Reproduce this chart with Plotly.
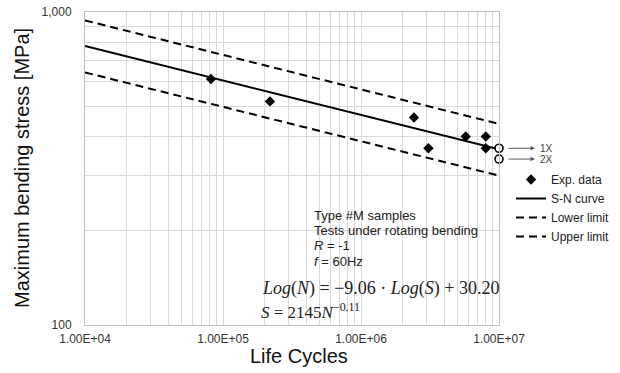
import plotly.graph_objects as go
import math

# ---------------- data ----------------
exp_cycles = [8.18e4, 2.19e5, 2.42e6, 3.08e6, 5.74e6, 8.02e6, 8.02e6]
exp_stress = [611, 518, 460, 367, 400, 400, 367]

runout_cycles = [1.0e7, 1.0e7]
runout_stress = [367, 339]
runout_labels = ["1X", "2X"]

curve_cycles = [1.0e4, 1.0e7]
sn_stress = [779, 364]
lower_stress = [641, 300]
upper_stress = [940, 439]

x_tickvals = [1e4, 1e5, 1e6, 1e7]
x_ticktext = ["1.00E+04", "1.00E+05", "1.00E+06", "1.00E+07"]
y_tickvals = [100, 1000]
y_ticktext = ["100", "1,000"]

info_lines = ["Type #M samples", "Tests under rotating bending",
              "<i>R</i> = -1", "<i>f</i> = 60Hz"]
formula_1 = "<i>Log</i>(<i>N</i>) = \u22129.06 \u00b7 <i>Log</i>(<i>S</i>) + 30.20"
formula_2 = "<i>S</i> = 2145<i>N</i><sup>\u22120.11</sup>"

# ---------------- layout helpers ----------------
W, H = 620, 373
L, R, T, B = 85, 499, 12, 325
PW, PH = R - L, B - T


def px(xp):
    return (xp - L) / PW


def py(yp):
    return (B - yp) / PH


SANS = "Liberation Sans, Arial, sans-serif"
SERIF = "Liberation Serif, Times New Roman, serif"
GRID = "#d9d9d9"

fig = go.Figure()

fig.add_trace(go.Scatter(x=exp_cycles, y=exp_stress, mode="markers", name="Exp. data",
                         marker=dict(symbol="diamond", size=8, color="black")))
fig.add_trace(go.Scatter(x=curve_cycles, y=sn_stress, mode="lines", name="S-N curve",
                         line=dict(color="black", width=2)))
fig.add_trace(go.Scatter(x=curve_cycles, y=lower_stress, mode="lines", name="Lower limit",
                         line=dict(color="black", width=2, dash="8px,5px")))
fig.add_trace(go.Scatter(x=curve_cycles, y=upper_stress, mode="lines", name="Upper limit",
                         line=dict(color="black", width=2, dash="8px,5px")))
fig.add_trace(go.Scatter(x=runout_cycles, y=runout_stress, mode="markers", showlegend=False,
                         cliponaxis=False,
                         marker=dict(symbol="circle", size=8, color="white",
                                     line=dict(color="black", width=1.6))))

minor_x = [k * 10 ** e for e in range(4, 7) for k in range(2, 10)]
minor_y = [k * 100 for k in range(2, 10)]

fig.update_xaxes(type="log", range=[4, 7], tickvals=x_tickvals, ticktext=x_ticktext,
                 showgrid=True, gridcolor=GRID, gridwidth=1,
                 minor=dict(tickvals=minor_x, showgrid=True, gridcolor=GRID, gridwidth=1),
                 showline=True, linecolor="#bfbfbf", mirror=True, zeroline=False,
                 ticks="", ticklabelstandoff=3,
                 tickfont=dict(family=SANS, size=12, color="#333333"))
fig.update_yaxes(type="log", range=[2, 3], tickvals=y_tickvals, ticktext=y_ticktext,
                 showgrid=True, gridcolor=GRID, gridwidth=1,
                 minor=dict(tickvals=minor_y, showgrid=True, gridcolor=GRID, gridwidth=1),
                 showline=True, linecolor="#bfbfbf", mirror=True, zeroline=False,
                 ticks="", ticklabelstandoff=10,
                 tickfont=dict(family=SANS, size=12, color="#333333"))

shapes = []
for (x0, x1, y0, y1) in [(305, 493, 205, 270), (258, 497, 270, 298), (240, 400, 298, 321)]:
    shapes.append(dict(type="rect", xref="paper", yref="paper", layer="between",
                       x0=px(x0), x1=px(x1), y0=py(y1), y1=py(y0),
                       fillcolor="white", line=dict(width=0)))

ann = []
for i, t in enumerate(info_lines):
    ann.append(dict(xref="paper", yref="paper", x=px(312), y=py(215 + i * 15.5), text=t,
                    showarrow=False, xanchor="left", yanchor="middle",
                    font=dict(family=SANS, size=13, color="#222222")))
ann.append(dict(xref="paper", yref="paper", x=px(381), y=py(288), text=formula_1,
                showarrow=False, xanchor="center", yanchor="middle",
                font=dict(family=SERIF, size=18, color="#222222")))
ann.append(dict(xref="paper", yref="paper", x=px(310), y=py(311), text=formula_2,
                showarrow=False, xanchor="center", yanchor="middle",
                font=dict(family=SERIF, size=17, color="#222222")))

for c, s, lab in zip(runout_cycles, runout_stress, runout_labels):
    ann.append(dict(xref="paper", yref="y", x=px(535), y=math.log10(s), text="",
                    showarrow=True, axref="pixel", ax=-28, ay=0,
                    arrowhead=2, arrowsize=0.9, arrowwidth=1, arrowcolor="#595959"))
    ann.append(dict(xref="paper", yref="y", x=px(538), y=math.log10(s), text=lab,
                    showarrow=False, xanchor="left", yanchor="middle",
                    font=dict(family=SANS, size=10, color="#404040")))

ann.append(dict(xref="paper", yref="paper", x=px(22), y=py(168), text="Maximum bending stress [MPa]",
                textangle=-90, showarrow=False, xanchor="center", yanchor="middle",
                font=dict(family=SANS, size=20, color="#111111")))
ann.append(dict(xref="paper", yref="paper", x=px(299), y=py(356), text="Life Cycles",
                showarrow=False, xanchor="center", yanchor="middle",
                font=dict(family=SANS, size=20, color="#111111")))

fig.update_layout(
    width=W, height=H,
    margin=dict(l=L, r=W - R, t=T, b=H - B, pad=0, autoexpand=False),
    paper_bgcolor="white", plot_bgcolor="white",
    showlegend=True,
    legend=dict(x=px(511), y=py(165), xanchor="left", yanchor="top",
                font=dict(family=SANS, size=12, color="#222222"),
                bgcolor="rgba(0,0,0,0)", tracegroupgap=0),
    shapes=shapes, annotations=ann,
)

fig.write_html("out.html")
